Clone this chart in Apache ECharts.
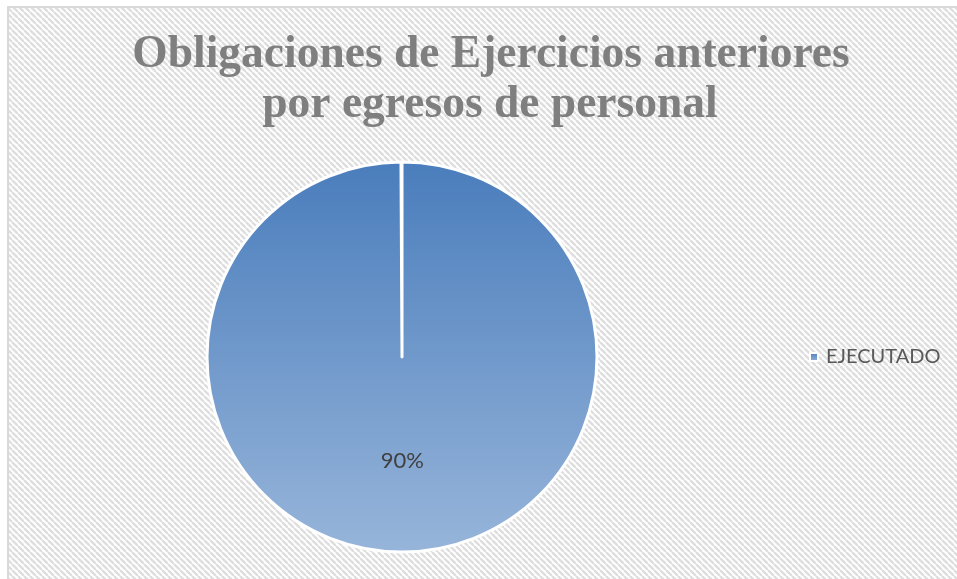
<!DOCTYPE html>
<html>
<head>
<meta charset="utf-8">
<script src="https://cdn.jsdelivr.net/npm/echarts@6/dist/echarts.min.js"></script>
<style>html,body{margin:0;padding:0;background:#fff;overflow:hidden;}#c{width:957px;height:579px;}</style>
</head>
<body>
<div id="c"></div>
<script>
const categories = ['EJECUTADO'];
const values = [0.9];
const titleLines = ['Obligaciones de Ejercicios anteriores', 'por egresos de personal'];

const tile = document.createElement('canvas');
tile.width = 6; tile.height = 6;
const g = tile.getContext('2d');
g.fillStyle = '#ffffff'; g.fillRect(0, 0, 6, 6);
g.strokeStyle = '#dedede'; g.lineWidth = 2.4;
for (const k of [-6, 0, 6]) { g.beginPath(); g.moveTo(k, 0); g.lineTo(k + 6, 6); g.stroke(); }

const chart = echarts.init(document.getElementById('c'), null, {renderer: 'canvas'});
chart.setOption({
  backgroundColor: '#ffffff',
  animation: false,
  graphic: [
    {type: 'rect', z: -10, shape: {x: 8, y: 7, width: 2000, height: 2000},
     style: {fill: {image: tile, repeat: 'repeat'}, stroke: '#d9d9d9', lineWidth: 2}},
    {type: 'text', z: 10, x: 491, y: 55,
     style: {text: titleLines[0], font: 'bold 45.5px "Liberation Serif"', fill: '#7f7f7f', align: 'center', verticalAlign: 'middle'}},
    {type: 'text', z: 10, x: 490, y: 105,
     style: {text: titleLines[1], font: 'bold 45.5px "Liberation Serif"', fill: '#7f7f7f', align: 'center', verticalAlign: 'middle'}}
  ],
  legend: {
    orient: 'vertical', left: 809, top: 347, padding: 0,
    icon: 'rect', itemWidth: 8, itemHeight: 8,
    data: categories,
    textStyle: {fontFamily: 'Lato', fontSize: 20, color: '#595959', padding: [0, 0, 0, 3]}
  },
  series: [{
    type: 'pie',
    center: [402, 357],
    radius: [0, 195],
    startAngle: 90,
    endAngle: -269.7,
    clockwise: true,
    silent: true,
    itemStyle: {
      borderColor: '#ffffff', borderWidth: 3,
      color: {type: 'linear', x: 0, y: 0, x2: 0, y2: 1,
        colorStops: [{offset: 0, color: '#4a7dbc'}, {offset: 1, color: '#97b5da'}]}
    },
    label: {
      position: 'inside',
      formatter: p => Math.round(p.value * 100) + '%',
      fontFamily: 'Lato', fontSize: 22, color: '#404040',
      offset: [0, 3]
    },
    labelLine: {show: false},
    data: categories.map((c, i) => ({name: c, value: values[i]}))
  }]
});
</script>
</body>
</html>
